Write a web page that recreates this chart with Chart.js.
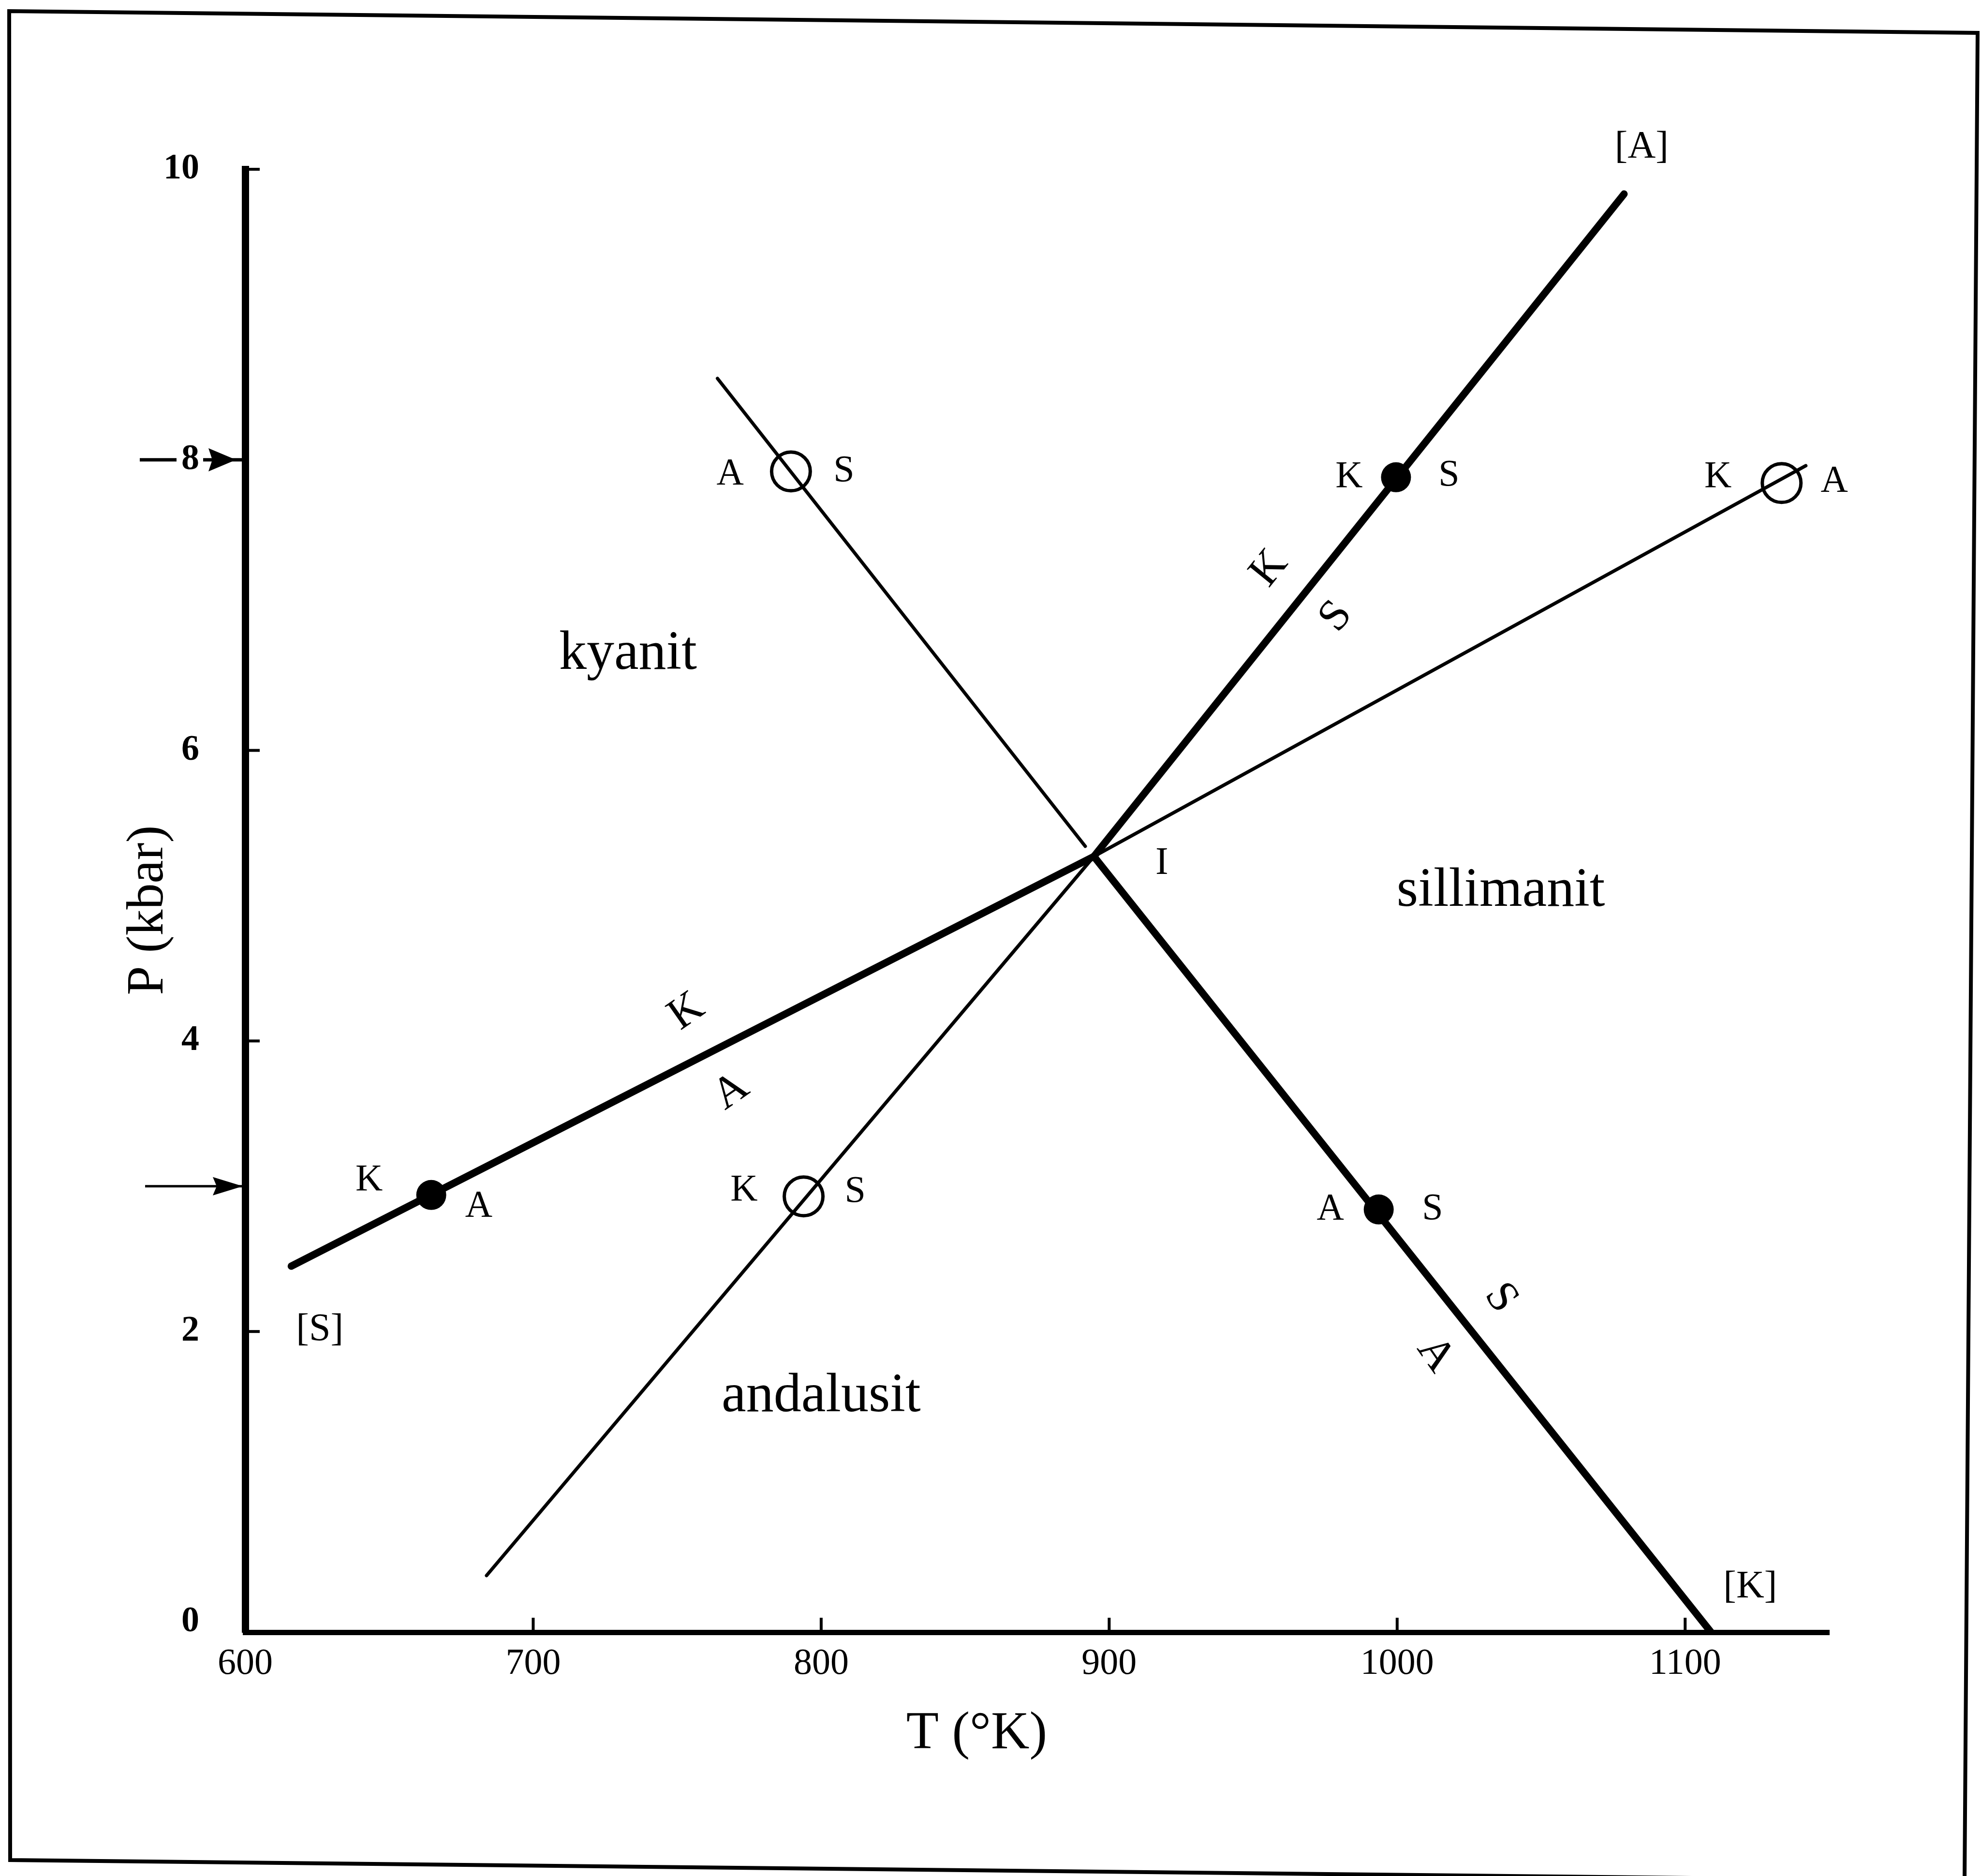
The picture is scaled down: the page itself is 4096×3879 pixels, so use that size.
<!DOCTYPE html>
<html>
<head>
<meta charset="utf-8">
<title>Al2SiO5 phase diagram</title>
<script src="https://cdn.jsdelivr.net/npm/chart.js@4.4.1/dist/chart.umd.min.js"></script>
<style>
  html, body { margin: 0; padding: 0; background: #fff; }
  canvas { display: block; }
</style>
</head>
<body>
<canvas id="phaseChart" width="4096" height="3879"></canvas>
<script>
/* ---------- Data (T in K, P in kbar) ---------- */

const tTicks = [600, 700, 800, 900, 1000, 1100];
const pTicks = [0, 2, 4, 6, 8, 10];

// stable reaction curves (thick), each [T, P] end points
const curveS = [[616, 2.45], [894.7, 5.27]];     // kyanit = andalusit
const curveA = [[894.7, 5.27], [1078.8, 9.83]];  // kyanit = sillimanit
const curveK = [[894.7, 5.27], [1109, -0.07]];   // andalusit = sillimanit

// metastable extensions (thin)
const extAS = [[764, 8.56], [891.7, 5.34]];
const extKA = [[894.7, 5.27], [1141.9, 7.96]];
const extKS = [[683.8, 0.32], [894.7, 5.27]];

// experiment points
const filledT = [664.6, 999.6, 993.6];
const filledP = [2.94, 7.88, 2.84];
const openT = [793.9, 789.5, 1133.5];
const openP = [2.93, 7.92, 7.84];

// pressures marked by arrows on the P axis
const arrowP = [8, 3];

/* ---------- Text on the diagram ---------- */

const SERIF = "'Liberation Serif', 'Times New Roman', serif";

const notes = [
  { text: "kyanit", t: 732.9, p: 6.66, size: 114 },
  { text: "sillimanit", t: 1036.0, p: 5.03, size: 114 },
  { text: "andalusit", t: 800.0, p: 1.55, size: 114 },
  { text: "[S]", t: 625.9, p: 2.01, size: 80 },
  { text: "[A]", t: 1084.9, p: 10.15, size: 80 },
  { text: "[K]", t: 1122.6, p: 0.24, size: 80 },
  { text: "I", t: 918.3, p: 5.22, size: 80 },
  { text: "K", t: 643.0, p: 3.04, size: 78 },
  { text: "A", t: 681.1, p: 2.86, size: 78 },
  { text: "K", t: 773.2, p: 2.97, size: 78 },
  { text: "S", t: 811.8, p: 2.96, size: 78 },
  { text: "A", t: 768.4, p: 7.90, size: 78 },
  { text: "S", t: 807.9, p: 7.92, size: 78 },
  { text: "K", t: 983.3, p: 7.88, size: 78 },
  { text: "S", t: 1018.0, p: 7.89, size: 78 },
  { text: "K", t: 1111.4, p: 7.88, size: 78 },
  { text: "A", t: 1151.8, p: 7.85, size: 78 },
  { text: "A", t: 976.8, p: 2.84, size: 78 },
  { text: "S", t: 1012.3, p: 2.84, size: 78 },
  { text: "K", t: 955.7, p: 7.25, size: 92, rot: -51 },
  { text: "S", t: 978.9, p: 6.92, size: 92, rot: -51 },
  { text: "K", t: 753.3, p: 4.20, size: 92, rot: -35 },
  { text: "A", t: 768.8, p: 3.65, size: 92, rot: -35 },
  { text: "S", t: 1035.9, p: 2.23, size: 92, rot: 55 },
  { text: "A", t: 1013.2, p: 1.84, size: 92, rot: 55 }
];

/* ---------- Helpers ---------- */

function toXY(list) {
  return list.map(([t, p]) => ({ x: t, y: p }));
}

function pairXY(ts, ps) {
  return ts.map((t, i) => ({ x: t, y: ps[i] }));
}

function curve(list, width) {
  return {
    type: "line",
    data: toXY(list),
    showLine: true,
    borderColor: "#000",
    borderWidth: width,
    borderCapStyle: "round",
    pointRadius: 0,
    order: 2
  };
}

/* ---------- Frame, inner ticks, arrows, labels ---------- */

const decor = {
  id: "decor",
  beforeDraw(chart) {
    const ctx = chart.ctx;
    ctx.save();
    ctx.fillStyle = "#fff";
    ctx.fillRect(0, 0, chart.width, chart.height);
    ctx.strokeStyle = "#000";
    ctx.lineWidth = 8;
    ctx.beginPath();
    ctx.moveTo(19, 23);
    ctx.lineTo(4089, 68);
    ctx.lineTo(4062, 3889);
    ctx.lineTo(21, 3846);
    ctx.closePath();
    ctx.stroke();
    ctx.restore();
  },
  afterDraw(chart) {
    const { ctx, chartArea } = chart;
    const xs = chart.scales.x;
    const ys = chart.scales.y;
    const axisX = chartArea.left;
    ctx.save();
    ctx.strokeStyle = "#000";
    ctx.fillStyle = "#000";

    // tick marks pointing into the plot
    ctx.lineWidth = 6;
    tTicks.slice(1).forEach(t => {
      const x = xs.getPixelForValue(t);
      ctx.beginPath();
      ctx.moveTo(x, chartArea.bottom);
      ctx.lineTo(x, chartArea.bottom - 30);
      ctx.stroke();
    });
    pTicks.filter(p => p !== 0 && !arrowP.includes(p)).forEach(p => {
      const y = ys.getPixelForValue(p);
      ctx.beginPath();
      ctx.moveTo(axisX, y);
      ctx.lineTo(axisX + 30, y);
      ctx.stroke();
    });

    // arrows pointing at the axis
    ctx.font = "bold 74px " + SERIF;
    arrowP.forEach(p => {
      const y = ys.getPixelForValue(p);
      const onTick = pTicks.includes(p);
      const tip = axisX - (onTick ? 19 : 5);
      const base = tip - (onTick ? 57 : 62);
      const half = onTick ? 24 : 19;
      ctx.lineWidth = onTick ? 7 : 5;
      ctx.beginPath();
      if (onTick) {
        // leave room for the tick label
        const right = axisX - 95;
        const w = ctx.measureText(String(p)).width;
        ctx.moveTo(axisX - 218, y);
        ctx.lineTo(right - w - 10, y);
        ctx.moveTo(right + 8, y);
        ctx.lineTo(axisX, y);
      } else {
        ctx.moveTo(axisX - 207, y);
        ctx.lineTo(axisX, y);
      }
      ctx.stroke();
      ctx.beginPath();
      ctx.moveTo(tip, y);
      ctx.lineTo(base, y - half);
      ctx.lineTo(base + 8, y);
      ctx.lineTo(base, y + half);
      ctx.closePath();
      ctx.fill();
    });

    // labels
    ctx.textAlign = "center";
    ctx.textBaseline = "middle";
    notes.forEach(n => {
      const x = xs.getPixelForValue(n.t);
      const y = ys.getPixelForValue(n.p);
      ctx.save();
      ctx.translate(x, y);
      if (n.rot) ctx.rotate(n.rot * Math.PI / 180);
      ctx.font = n.size + "px " + SERIF;
      ctx.fillText(n.text, 0, 0);
      ctx.restore();
    });

    // axis titles
    ctx.font = "110px " + SERIF;
    ctx.fillText("T (°K)", xs.getPixelForValue(854), 3586);
    ctx.save();
    ctx.translate(308, ys.getPixelForValue(4.9));
    ctx.rotate(-Math.PI / 2);
    ctx.font = "108px " + SERIF;
    ctx.fillText("P (kbar)", 0, 0);
    ctx.restore();

    ctx.restore();
  }
};

/* ---------- Chart ---------- */

new Chart(document.getElementById("phaseChart"), {
  type: "scatter",
  data: {
    datasets: [
      {
        data: pairXY(filledT, filledP),
        pointRadius: 31,
        pointBackgroundColor: "#000",
        pointBorderColor: "#000",
        pointBorderWidth: 0,
        order: 0
      },
      {
        data: pairXY(openT, openP),
        pointRadius: 40,
        pointBackgroundColor: "rgba(255,255,255,0)",
        pointBorderColor: "#000",
        pointBorderWidth: 7,
        order: 0
      },
      curve(curveS, 15),
      curve(curveA, 15),
      curve(curveK, 15),
      curve(extAS, 7),
      curve(extKA, 7),
      curve(extKS, 7)
    ]
  },
  options: {
    responsive: false,
    animation: false,
    events: [],
    layout: { padding: { left: 0, top: 350, right: 314, bottom: 0 } },
    plugins: {
      legend: { display: false },
      tooltip: { enabled: false }
    },
    scales: {
      x: {
        type: "linear",
        min: 600,
        max: 1150,
        afterFit: s => { s.height = 504; },
        afterBuildTicks: s => { s.ticks = tTicks.map(v => ({ value: v })); },
        grid: { display: false, drawTicks: false },
        border: { display: true, width: 11, color: "#000" },
        ticks: {
          padding: 20,
          color: "#000",
          maxRotation: 0,
          font: { family: SERIF, size: 76 },
          callback: v => String(v)
        }
      },
      y: {
        type: "linear",
        min: -0.07,
        max: 10,
        afterFit: s => { s.width = 507; },
        afterBuildTicks: s => { s.ticks = pTicks.map(v => ({ value: v })); },
        grid: { display: false, drawTicks: false },
        border: { display: true, width: 15, color: "#000" },
        ticks: {
          padding: 95,
          color: "#000",
          font: { family: SERIF, size: 74, weight: "bold" },
          callback: v => String(v)
        }
      }
    }
  },
  plugins: [decor]
});
</script>
</body>
</html>
